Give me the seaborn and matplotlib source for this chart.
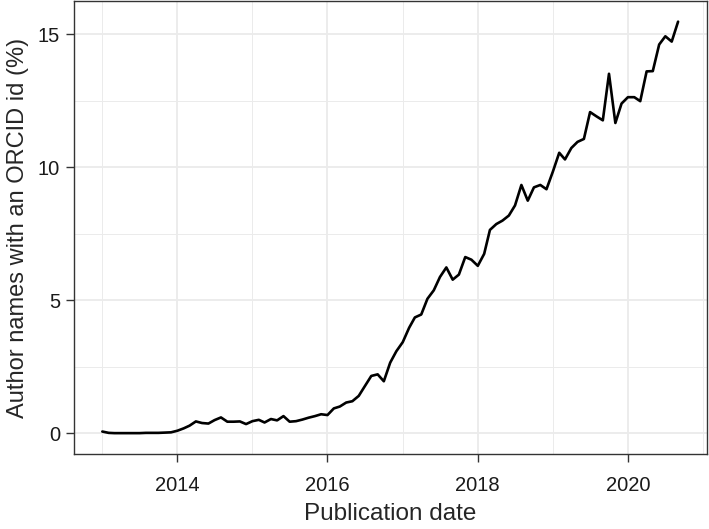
"""
ORCID 저자 비율 추이 — 월별 라인 차트 (ggplot theme_bw 스타일 재현)
"""
import pandas as pd
import matplotlib.pyplot as plt
import matplotlib.dates as mdates
import seaborn as sns

# 2013-01 ~ 2020-09 월별 값 (%)
START = "2013-01-01"
ORCID_PCT = [
    0.07, 0.02, 0.01, 0.01, 0.01, 0.01, 0.01, 0.02, 0.02, 0.02, 0.03, 0.04,
    0.10, 0.19, 0.29, 0.45, 0.39, 0.37, 0.50, 0.60, 0.44, 0.44, 0.45, 0.35,
    0.46, 0.51, 0.41, 0.54, 0.49, 0.65, 0.44, 0.46, 0.52, 0.59, 0.65, 0.72,
    0.69, 0.94, 1.01, 1.16, 1.21, 1.41, 1.78, 2.16, 2.22, 1.96, 2.66, 3.09,
    3.43, 3.97, 4.36, 4.47, 5.06, 5.38, 5.88, 6.24, 5.78, 5.97, 6.63, 6.53,
    6.30, 6.75, 7.65, 7.87, 8.00, 8.19, 8.57, 9.34, 8.75, 9.25, 9.34, 9.18,
    9.84, 10.55, 10.30, 10.73, 10.96, 11.07, 12.08, 11.92, 11.77, 13.52, 11.67, 12.40,
    12.64, 12.64, 12.49, 13.61, 13.62, 14.62, 14.93, 14.73, 15.48,
]
MAJOR_YEARS = [2014, 2016, 2018, 2020]
MINOR_YEARS = [2013, 2015, 2017, 2019, 2021]
Y_MAJOR = [0, 5, 10, 15]
Y_MINOR = [2.5, 7.5, 12.5]

sns.set_theme(style="white")
plt.rcParams["font.family"] = ["Liberation Sans", "DejaVu Sans"]

df = pd.DataFrame({
    "date": pd.date_range(START, periods=len(ORCID_PCT), freq="MS"),
    "pct": ORCID_PCT,
})

fig = plt.figure(figsize=(7.09, 5.29), dpi=100)
ax = fig.add_axes([0.1037, 0.1418, 0.8933, 0.8562])

sns.lineplot(data=df, x="date", y="pct", color="black", linewidth=1.9, ax=ax)

# ggplot 기본 5% 확장
x0, x1 = df["date"].min(), df["date"].max()
pad = (x1 - x0) * 0.05
ax.set_xlim(x0 - pad, x1 + pad)
y1 = max(ORCID_PCT)
ax.set_ylim(-0.05 * y1, y1 * 1.05)

ax.set_xticks([pd.Timestamp(f"{y}-01-01") for y in MAJOR_YEARS])
ax.set_xticks([pd.Timestamp(f"{y}-01-01") for y in MINOR_YEARS], minor=True)
ax.xaxis.set_major_formatter(mdates.DateFormatter("%Y"))
ax.set_yticks(Y_MAJOR)
ax.set_yticks(Y_MINOR, minor=True)

ax.grid(which="major", color="#EBEBEB", linewidth=1.3)
ax.grid(which="minor", color="#EBEBEB", linewidth=0.7)
ax.set_axisbelow(True)

for s in ax.spines.values():
    s.set_color("#333333")
    s.set_linewidth(1.0)

ax.tick_params(which="major", length=5.8, width=1.0, color="#333333",
               labelsize=14.5, labelcolor="#1a1a1a", pad=4, direction="out",
               bottom=True, left=True)
ax.tick_params(axis="x", which="major", pad=10)
ax.tick_params(which="minor", length=0)

ax.set_xlabel("Publication date", fontsize=17.5, labelpad=6)
ax.set_ylabel("Author names with an ORCID id (%)", fontsize=17, labelpad=6)

plt.savefig("out.png", dpi=100)
plt.close()
